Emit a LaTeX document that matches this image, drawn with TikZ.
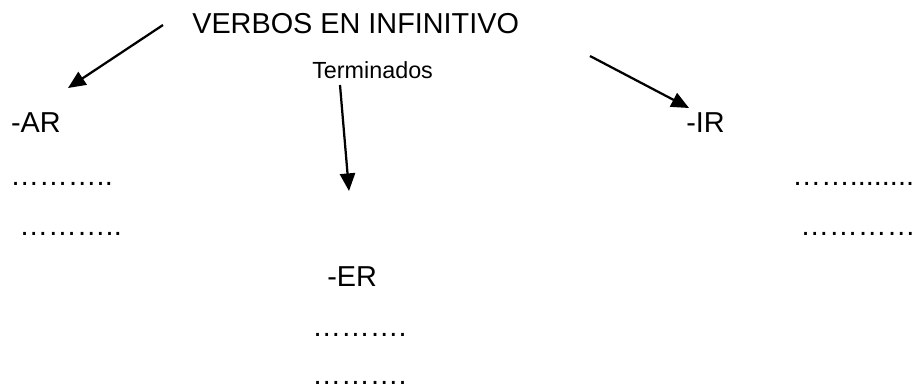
\documentclass[tikz,border=0pt]{standalone}
\usepackage{fontspec}
\setmainfont{Liberation Sans}
\usepackage{tikz}
\usetikzlibrary{arrows.meta}
\tikzset{every edge/.style={draw, line width=1.6pt}, >={Triangle[length=4.4mm, width=3.8mm]}}
\tikzset{word/.style={anchor=base west, inner sep=0pt, font=\fontsize{20.5pt}{24pt}\selectfont}}

\begin{document}
\begin{tikzpicture}[scale=1]       % verb endings
    \path[use as bounding box] (0, 0) rectangle (22.925, -9.725);

    \node[word] at (4.8, -0.825) (V) {VERBOS EN INFINITIVO};
    \node[word, font=\fontsize{16.6pt}{20pt}\selectfont] at (7.8, -1.95) (T) {Terminados};

    \node[word] at (0.27, -3.3) (AR) {-AR};
    \node[word] at (17.15, -3.3) (IR) {-IR};
    \node[word] at (8.175, -7.15) (ER) {-ER};

    \node[word] at (0.25, -4.625) (AR1) {………..};
    \node[word] at (0.475, -5.875) (AR2) {………..};
    \node[word] at (19.8, -4.625) (IR1) {……........};
    \node[word] at (20.0, -5.875) (IR2) {…………};
    \node[word] at (7.8, -8.4) (ER1) {……….};
    \node[word] at (7.8, -9.6) (ER2) {……….};

    \coordinate (s1) at (4.075, -0.625);
    \coordinate (e1) at (1.7, -2.2);
    \coordinate (s2) at (8.5, -2.125);
    \coordinate (e2) at (8.725, -4.775);
    \coordinate (s3) at (14.75, -1.4);
    \coordinate (e3) at (17.225, -2.7);

    \draw (s1) edge[->] (e1);
    \draw (s2) edge[->] (e2);
    \draw (s3) edge[->] (e3);
\end{tikzpicture}
\end{document}
